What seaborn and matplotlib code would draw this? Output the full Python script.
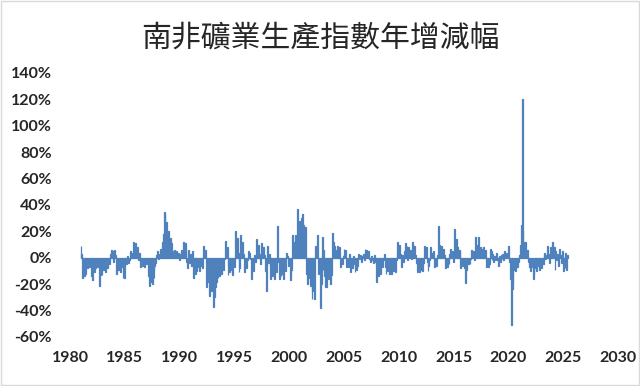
import numpy as np
import pandas as pd
import seaborn as sns
import matplotlib.pyplot as plt
from matplotlib.ticker import FuncFormatter
from matplotlib.patches import Rectangle

# monthly year-on-year change (%), Jan 1981 - Jun 2025
yoy_1981 = [9, 3, -15, -10, -14, -12, -6, -8, -5, -7, -3, -6]
yoy_1982 = [-14, -17, -6, -11, -8, -3, -7, -5, -21, -13, -4, -13]
yoy_1983 = [-6, -9, -2, -11, -4, -8, -1, -5, 3, 6, 2, 5]
yoy_1984 = [-3, 6, 2, -12, -5, -9, -2, -11, -4, -7, -15, -8]
yoy_1985 = [-15, -3, -5, 1, -4, -2, 5, 3, 4, 2, 12, 6]
yoy_1986 = [11, 3, 8, -2, 4, -7, -3, -6, -1, -5, -7, -2]
yoy_1987 = [-5, -3, -14, -21, -18, -12, -20, -9, -15, -6, -4, 2]
yoy_1988 = [5, -1, 3, 7, 4, 12, 18, 35, 33, 22, 27, 14]
yoy_1989 = [20, 9, 15, 11, 5, 3, 6, 2, 4, 5, 1, 4]
yoy_1990 = [-2, 3, 6, 2, 12, 8, 11, 5, -3, -8, 6, -4]
yoy_1991 = [3, -6, 5, -15, -9, -12, -4, -10, -7, -3, -10, -6]
yoy_1992 = [-2, -8, 9, 4, 6, -22, -14, -18, -12, -29, -20, -25]
yoy_1993 = [-16, -37, -30, -22, -18, -10, -15, -8, -14, -5, -12, -3]
yoy_1994 = [-9, -1, 13, 4, 8, -13, -6, -11, -4, -9, -13, -3]
yoy_1995 = [-7, 20, 10, 15, 4, -11, -8, 17, 8, 12, 3, -11]
yoy_1996 = [-4, -8, -2, 5, 2, 4, -1, -16, -6, -10, 2, -3]
yoy_1997 = [14, 6, 10, 3, -2, -5, 11, 5, 8, 2, -10, -25]
yoy_1998 = [9, -4, 3, -6, -16, -10, -14, -8, -16, -5, -11, 24]
yoy_1999 = [-3, -16, -9, -14, -4, -12, -16, -7, -10, 4, 1, -6]
yoy_2000 = [-3, -17, -12, -9, 17, 8, 12, 17, 6, 37, 22, 28]
yoy_2001 = [15, 30, 20, 33, 25, 12, 23, -12, -20, -8, -15, -21]
yoy_2002 = [-10, -31, -25, -12, -31, 9, 3, 17, -12, -5, -38, -20]
yoy_2003 = [16, -9, 6, -14, -22, -22, -10, -16, -5, -20, -13, 19]
yoy_2004 = [7, 12, 9, 3, 6, 9, 4, 8, -7, -2, -5, 1]
yoy_2005 = [7, 3, 6, -7, -3, -7, 3, -11, -2, -8, 1, -5]
yoy_2006 = [-11, -3, -9, -6, 3, -1, 2, -3, 1, 3, -2, 7]
yoy_2007 = [4, 6, 2, 5, -1, -3, 1, -2, -4, 2, -3, -1]
yoy_2008 = [-18, -9, -14, -5, -12, -6, -7, -2, 3, -7, -12, -6]
yoy_2009 = [-10, -4, -12, -8, -12, -5, -10, -3, -11, -2, 4, 12]
yoy_2010 = [6, 10, 3, -7, 2, -3, 5, 11, 4, 9, -2, 8]
yoy_2011 = [3, 6, -1, 12, 5, 9, 2, -4, -11, -6, -9, -11]
yoy_2012 = [-5, -9, -10, -4, 9, 2, 8, -3, -10, -6, -2, 8]
yoy_2013 = [4, 1, 5, -7, -3, -6, 2, 24, 6, 10, 3, 9]
yoy_2014 = [4, 7, 2, -8, -4, -7, -2, -5, 3, 7, 2, 5]
yoy_2015 = [-3, 22, 10, 14, 8, 2, 6, 5, -8, -3, -6, -1]
yoy_2016 = [-8, -19, -9, -4, -5, -2, -5, -1, 6, 3, 5, -2]
yoy_2017 = [16, 10, 4, 16, 2, 8, 5, 7, 1, 8, 3, 6]
yoy_2018 = [-7, -3, -7, -5, 7, 5, -2, 3, -3, 1, -2, 4]
yoy_2019 = [-2, -6, 1, -3, 2, -1, 3, -2, 5, 1, 4, 2]
yoy_2020 = [9, -3, -16, -51, -24, -18, -9, -6, -10, -4, -7, -3]
yoy_2021 = [2, 10, 25, 120, 20, 12, 6, 12, 4, 6, -3, -7]
yoy_2022 = [-10, -5, -7, -16, -13, -8, -4, -10, -6, -3, -9, -5]
yoy_2023 = [-8, -2, -5, 2, 4, -1, 2, 9, 3, -4, 8, 1]
yoy_2024 = [12, 4, 8, -9, 5, -2, 3, -6, 7, 2, -4, 5]
yoy_2025 = [-10, -3, -8, 4, -9, 2]

years = list(range(1981, 2026))
title = "南非礦業生產指數年增減幅"
xticks = list(range(1980, 2031, 5))
yticks = list(range(-60, 141, 20))

rows = []
for yr in years:
    vals = globals()[f"yoy_{yr}"]
    for m, v in enumerate(vals):
        rows.append((round(yr + m / 12, 4), v))
df = pd.DataFrame(rows, columns=["t", "yoy"])

sns.set_style("white")
plt.rcParams['font.family'] = ['Lato', 'DejaVu Sans']

fig = plt.figure(figsize=(6.4, 3.86), dpi=100)
ax = fig.add_axes([70 / 640, 49 / 386, (618 - 70) / 640, (313 - 49) / 386])

sns.barplot(data=df, x="t", y="yoy", native_scale=True, width=1.0,
            color="#4F81BD", saturation=1, linewidth=0.9, edgecolor="#4F81BD",
            errorbar=None, ax=ax)

ax.set_xlim(1980, 2030)
ax.set_ylim(-60, 140)
ax.set_xticks(xticks)
ax.set_xticklabels([str(x) for x in xticks])
ax.set_yticks(yticks)
ax.set_yticklabels([f"{v}%" for v in yticks])
ax.set_xlabel("")
ax.set_ylabel("")
sns.despine(ax=ax, left=True, bottom=True)

ax.tick_params(axis='both', length=0, labelsize=11.5)
ax.tick_params(axis='y', pad=13)
ax.tick_params(axis='x', pad=10)
for lab in ax.get_xticklabels() + ax.get_yticklabels():
    lab.set_fontweight('bold')

fig.text(0.5, 1 - 38 / 386, title, ha="center", va="center", fontsize=21.5,
         family=['Noto Sans CJK TC', 'DejaVu Sans'])

fig.patches.append(Rectangle((0.002, 0.003), 0.996, 0.994, transform=fig.transFigure,
                             fill=False, edgecolor="#D9D9D9", linewidth=1))

plt.savefig("out.png", dpi=100)
plt.close()
